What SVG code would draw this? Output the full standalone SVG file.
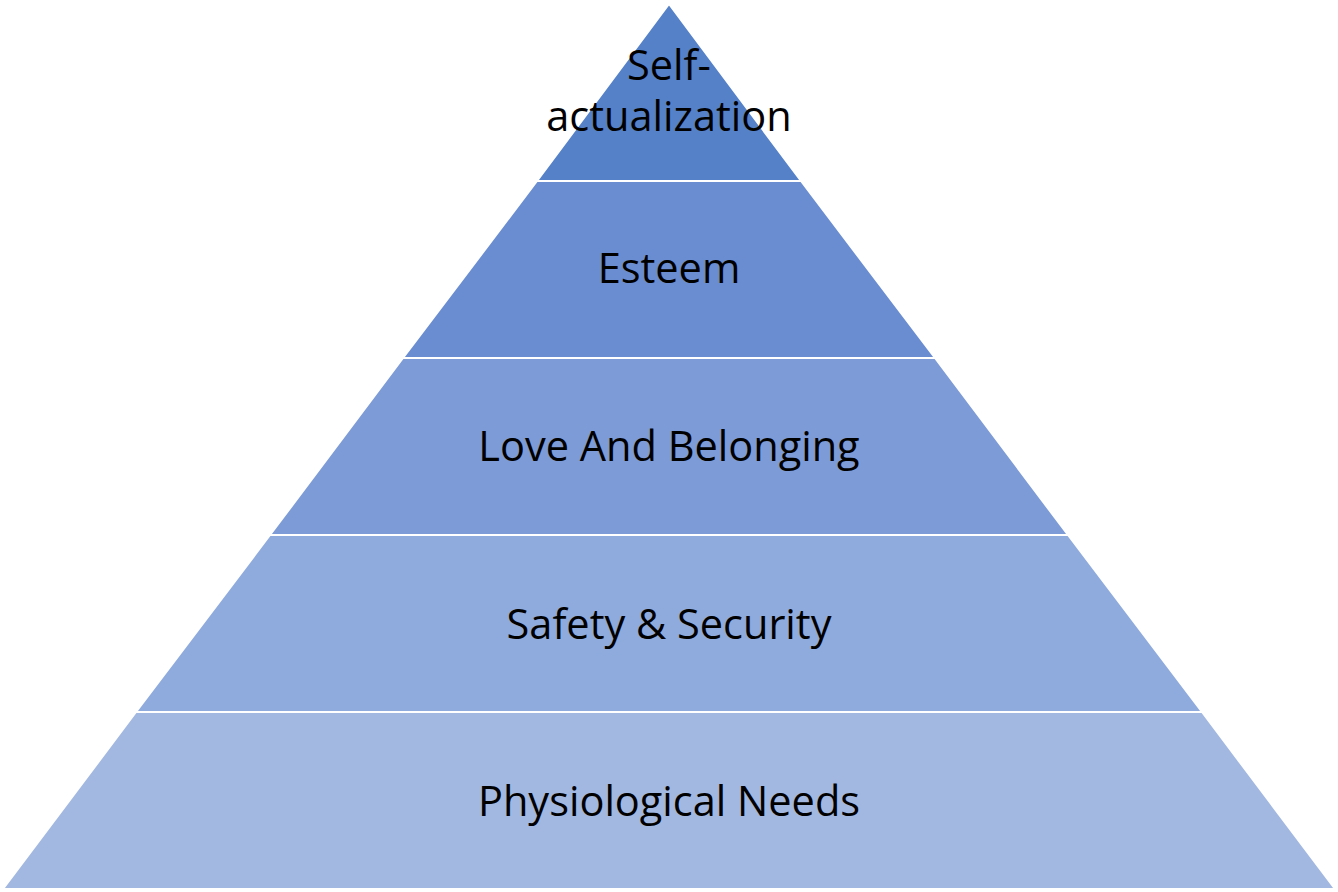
<svg xmlns="http://www.w3.org/2000/svg" width="1338" height="892" viewBox="0 0 1338 892">
<style>
.layer{stroke:#ffffff;stroke-width:2;stroke-linejoin:miter}
.lbl{font-family:"Open Sans","Liberation Sans",sans-serif;font-size:41.5px;fill:#000000;text-anchor:middle}
</style>
<rect width="1338" height="892" fill="#ffffff"/>
<g id="physiological">
<polygon class="layer" fill="#A2B8E1" points="136,712 1202,712 1335,889 3,889"/>
<text class="lbl" x="669" y="816">Physiological Needs</text>
</g>
<g id="safety">
<polygon class="layer" fill="#8FABDD" points="270,535 1068,535 1202,712 136,712"/>
<text class="lbl" x="669" y="639">Safety &amp; Security</text>
</g>
<g id="love">
<polygon class="layer" fill="#7D9BD6" points="403,358 935,358 1068,535 270,535"/>
<text class="lbl" x="669" y="461">Love And Belonging</text>
</g>
<g id="esteem">
<polygon class="layer" fill="#6A8DD1" points="537,181 801,181 935,358 403,358"/>
<text class="lbl" x="669" y="283">Esteem</text>
</g>
<g id="self-actualization">
<polygon class="layer" fill="#5581C9" points="669,4 801,181 537,181"/>
<text class="lbl" x="669" y="80">Self-</text>
<text class="lbl" x="669" y="131">actualization</text>
</g>
<g id="connectors"/>
</svg>
